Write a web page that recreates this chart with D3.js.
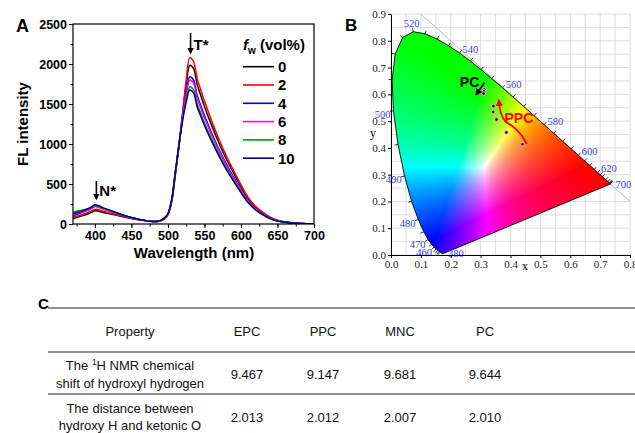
<!DOCTYPE html>
<html>
<head>
<meta charset="utf-8">
<script src="https://cdn.jsdelivr.net/npm/d3@7"></script>
<style>
  body { margin: 0; background: #fff; }
  svg { display: block; }
</style>
</head>
<body>
<svg id="fig" width="635" height="433"></svg>
<script>
// ---------- panel A data : FL spectra ----------
const wavelength = [370, 380, 390, 395, 400, 405, 410, 420, 430, 440, 450, 460, 470, 480, 485, 490, 495,
  500, 505, 510, 515, 520, 525, 530, 535, 540, 545, 550, 560, 570, 580, 590, 600, 610, 620, 630, 640, 650, 660, 670, 680, 690, 700]

const fl0 = [65, 95, 125, 145, 165, 160, 148, 128, 108, 88, 70, 54, 40, 31, 32, 42, 66,
  120, 280, 615, 975, 1370, 1740, 1985, 1945, 1745, 1605, 1470, 1230, 1010, 810, 635, 468, 315, 210, 138, 80, 44, 26, 15, 8, 4, 1]
const fl2 = [85, 110, 140, 160, 185, 178, 162, 138, 115, 93, 73, 55, 40, 30, 30, 38, 60,
  115, 270, 600, 960, 1380, 1800, 2080, 2030, 1820, 1675, 1537, 1286, 1056, 848, 665, 490, 330, 220, 145, 85, 46, 27, 16, 9, 4, 1]
const fl4 = [105, 135, 170, 195, 225, 215, 195, 162, 132, 104, 80, 58, 41, 31, 32, 43, 70,
  125, 290, 630, 985, 1340, 1640, 1840, 1800, 1610, 1480, 1355, 1135, 930, 748, 585, 432, 290, 193, 127, 74, 40, 24, 14, 8, 4, 1]
const fl6 = [118, 142, 172, 193, 215, 207, 190, 160, 130, 102, 78, 57, 41, 31, 32, 43, 70,
  125, 290, 628, 980, 1330, 1610, 1798, 1760, 1575, 1447, 1325, 1110, 910, 730, 572, 422, 284, 189, 124, 72, 39, 23, 14, 8, 4, 1]
const fl8 = [150, 168, 192, 208, 230, 220, 200, 168, 136, 106, 80, 58, 41, 31, 32, 44, 72,
  128, 295, 635, 980, 1300, 1555, 1715, 1680, 1500, 1380, 1262, 1058, 868, 697, 546, 402, 271, 180, 118, 69, 37, 22, 13, 7, 3, 1]
const fl10 = [130, 155, 187, 212, 240, 230, 208, 174, 140, 108, 82, 59, 42, 32, 33, 45, 74,
  130, 300, 640, 985, 1290, 1525, 1675, 1640, 1465, 1347, 1232, 1032, 847, 680, 532, 392, 264, 176, 115, 67, 36, 21, 12, 7, 3, 1]

const fwLabels = ['0', '2', '4', '6', '8', '10']
const fwSeries = [fl0, fl2, fl4, fl6, fl8, fl10]
const fwColors = ['#000000', '#ff0000', '#0000ff', '#ff00ff', '#009900', '#000080']

const specTicksX = [400, 450, 500, 550, 600, 650, 700]
const specTicksY = [0, 500, 1000, 1500, 2000, 2500]

// ---------- panel B data : CIE 1931 ----------
const locusNm = [380, 390, 400, 410, 420, 430, 440, 445, 450, 455, 460, 465, 470, 475, 480, 485, 490, 495, 500, 505,
  510, 515, 520, 525, 530, 535, 540, 545, 550, 555, 560, 565, 570, 575, 580, 585, 590, 595, 600, 605, 610, 615, 620, 625,
  630, 640, 650, 660, 670, 680, 690, 700]
const locusX = [0.1741, 0.1738, 0.1733, 0.1726, 0.1714, 0.1689, 0.1644, 0.1611, 0.1566, 0.1510, 0.1440, 0.1355, 0.1241,
  0.1096, 0.0913, 0.0687, 0.0454, 0.0235, 0.0082, 0.0039, 0.0139, 0.0389, 0.0743, 0.1142, 0.1547, 0.1929, 0.2296, 0.2658,
  0.3016, 0.3373, 0.3731, 0.4087, 0.4441, 0.4788, 0.5125, 0.5448, 0.5752, 0.6029, 0.6270, 0.6482, 0.6658, 0.6801, 0.6915,
  0.7006, 0.7079, 0.7190, 0.7260, 0.7300, 0.7320, 0.7334, 0.7344, 0.7347]
const locusY = [0.0050, 0.0049, 0.0048, 0.0048, 0.0051, 0.0069, 0.0109, 0.0138, 0.0177, 0.0227, 0.0297, 0.0399, 0.0578,
  0.0868, 0.1327, 0.2007, 0.2950, 0.4127, 0.5384, 0.6548, 0.7502, 0.8120, 0.8338, 0.8262, 0.8059, 0.7816, 0.7543, 0.7243,
  0.6923, 0.6589, 0.6245, 0.5896, 0.5547, 0.5202, 0.4866, 0.4544, 0.4242, 0.3965, 0.3725, 0.3514, 0.3340, 0.3197, 0.3083,
  0.2993, 0.2920, 0.2809, 0.2740, 0.2700, 0.2680, 0.2666, 0.2656, 0.2653]
const locusLabels = [380, 460, 470, 480, 490, 500, 520, 540, 560, 580, 600, 620, 700]

const pcX = [0.312, 0.311, 0.310]
const pcY = [0.618, 0.611, 0.603]
const ppcX = [0.343, 0.342, 0.353, 0.386, 0.440]
const ppcY = [0.556, 0.534, 0.506, 0.458, 0.414]

// annotation arrows (chromaticity coords)
const ppcArrowX = [0.454, 0.436, 0.408, 0.382, 0.368, 0.361]
const ppcArrowY = [0.414, 0.448, 0.480, 0.500, 0.530, 0.578]
const pcArrowX = [0.313, 0.285]
const pcArrowY = [0.643, 0.599]

const cieTicks = [0, 0.1, 0.2, 0.3, 0.4, 0.5, 0.6, 0.7, 0.8]
const cieTicksY = [0, 0.1, 0.2, 0.3, 0.4, 0.5, 0.6, 0.7, 0.8, 0.9]

// ---------- panel C data : table ----------
const tableHead = ['Property', 'EPC', 'PPC', 'MNC', 'PC']
const nmrShift = ['9.467', '9.147', '9.681', '9.644']
const hoDistance = ['2.013', '2.012', '2.007', '2.010']

const svg = d3.select('#fig')
const sans = 'Liberation Sans, Arial, sans-serif'
const serif = 'Liberation Serif, Times New Roman, serif'

svg.append('rect').attr('width', 635).attr('height', 433).attr('fill', '#fff')

const defs = svg.append('defs')
function marker (id, color) {
  defs.append('marker').attr('id', id)
    .attr('viewBox', '0 0 10 10').attr('refX', 8).attr('refY', 5)
    .attr('markerWidth', 4).attr('markerHeight', 4).attr('orient', 'auto')
    .append('path').attr('d', 'M0,0 L10,5 L0,10 z').attr('fill', color)
}
marker('headBlack', '#000')
marker('headRed', '#ff0000')

/* ================= panel A ================= */
const gA = svg.append('g')
const xA = d3.scaleLinear().domain([370, 700]).range([73, 314])
const yA = d3.scaleLinear().domain([0, 2500]).range([224, 24])

defs.append('clipPath').attr('id', 'clipA').append('rect')
  .attr('x', 73).attr('y', 24).attr('width', 241).attr('height', 200)

const styleAxis = (sel) => {
  sel.select('.domain').remove()
  sel.selectAll('.tick line').attr('stroke', '#000').attr('stroke-width', 1)
  sel.selectAll('.tick text').attr('font-family', sans).attr('font-weight', 'bold')
    .attr('font-size', 12.5).attr('fill', '#000')
}

gA.append('g').attr('transform', 'translate(0,224)')
  .call(d3.axisBottom(xA).tickValues(d3.range(375, 700, 25)).tickSize(2.5).tickFormat(''))
  .call(styleAxis)
gA.append('g').attr('transform', 'translate(0,224)')
  .call(d3.axisBottom(xA).tickValues(specTicksX).tickSize(4).tickPadding(3).tickFormat(d3.format('d')))
  .call(styleAxis)
gA.append('g').attr('transform', 'translate(73,0)')
  .call(d3.axisLeft(yA).tickValues(d3.range(250, 2500, 500)).tickSize(2.5).tickFormat(''))
  .call(styleAxis)
gA.append('g').attr('transform', 'translate(73,0)')
  .call(d3.axisLeft(yA).tickValues(specTicksY).tickSize(4).tickPadding(2).tickFormat(d3.format('d')))
  .call(styleAxis)

const lineA = d3.line().x((d, i) => xA(wavelength[i])).y(d => yA(d)).curve(d3.curveCatmullRom)
gA.append('g').attr('clip-path', 'url(#clipA)')
  .selectAll('path').data(fwSeries).join('path')
  .attr('d', lineA).attr('fill', 'none')
  .attr('stroke', (d, i) => fwColors[i]).attr('stroke-width', 1.5)

gA.append('rect').attr('x', 73).attr('y', 24).attr('width', 241).attr('height', 200)
  .attr('fill', 'none').attr('stroke', '#000').attr('stroke-width', 1.2)

// legend
const leg = gA.append('g')
const legTitle = leg.append('text').attr('x', 243).attr('y', 50)
  .attr('font-family', sans).attr('font-weight', 'bold').attr('font-size', 15)
legTitle.append('tspan').attr('font-style', 'italic').text('f')
legTitle.append('tspan').attr('font-size', 10).attr('dy', 4).text('w')
legTitle.append('tspan').attr('dy', -4).text(' (vol%)')
const legRows = leg.selectAll('g.row').data(fwLabels).join('g').attr('class', 'row')
  .attr('transform', (d, i) => 'translate(0,' + (66.7 + i * 18.3) + ')')
legRows.append('line').attr('x1', 243).attr('x2', 274)
  .attr('stroke', (d, i) => fwColors[i]).attr('stroke-width', 1.6)
legRows.append('text').attr('x', 278).attr('dy', '0.36em')
  .attr('font-family', sans).attr('font-weight', 'bold').attr('font-size', 15).text(d => d)

// peak markers
function peakMark (nm, y0, y1, label) {
  gA.append('line').attr('x1', xA(nm)).attr('x2', xA(nm)).attr('y1', y0).attr('y2', y1)
    .attr('stroke', '#000').attr('stroke-width', 1.6).attr('marker-end', 'url(#headBlack)')
  gA.append('text').attr('x', xA(nm) + 3).attr('y', y1 - 3)
    .attr('font-family', sans).attr('font-weight', 'bold').attr('font-size', 15).text(label)
}
peakMark(531, 33, 53, 'T*')
peakMark(402, 181, 199, 'N*')

gA.append('text').attr('transform', 'translate(28,124) rotate(-90)').attr('text-anchor', 'middle')
  .attr('font-family', sans).attr('font-weight', 'bold').attr('font-size', 15).text('FL intensity')
gA.append('text').attr('x', 194).attr('y', 258).attr('text-anchor', 'middle')
  .attr('font-family', sans).attr('font-weight', 'bold').attr('font-size', 15).text('Wavelength (nm)')
svg.append('text').attr('x', 16).attr('y', 32)
  .attr('font-family', sans).attr('font-weight', 'bold').attr('font-size', 18).text('A')

/* ================= panel B ================= */
const gB = svg.append('g')
const xB = d3.scaleLinear().domain([0, 0.8]).range([391, 630])
const yB = d3.scaleLinear().domain([0, 0.9]).range([255, 14])

// grid
gB.append('g').selectAll('line').data(d3.range(0, 0.8001, 0.05)).join('line')
  .attr('x1', d => xB(d)).attr('x2', d => xB(d)).attr('y1', yB(0)).attr('y2', yB(0.9))
  .attr('stroke', '#d4d4d4').attr('stroke-width', 0.8)
gB.append('g').selectAll('line').data(d3.range(0, 0.9001, 0.05)).join('line')
  .attr('y1', d => yB(d)).attr('y2', d => yB(d)).attr('x1', xB(0)).attr('x2', xB(0.8))
  .attr('stroke', '#d4d4d4').attr('stroke-width', 0.8)

// x + y = 1 line
gB.append('line').attr('x1', xB(0.1)).attr('y1', yB(0.9)).attr('x2', xB(0.8)).attr('y2', yB(0.2))
  .attr('stroke', '#bdbdbd').attr('stroke-width', 1)

// gamut colour fill (linear, max-normalised RGB as in the original plot)
const locusPts = locusNm.map((nm, i) => [xB(locusX[i]), yB(locusY[i])])
defs.append('clipPath').attr('id', 'gamutClip').append('path')
  .attr('d', d3.line()(locusPts) + 'Z')

const x0 = 391, y0 = 14
const imgW = 240, imgH = 242
const canvas = document.createElement('canvas')
canvas.width = imgW
canvas.height = imgH
const ctx = canvas.getContext('2d')
const img = ctx.createImageData(imgW, imgH)
const enc = v => Math.pow(v, 0.85)
for (let j = 0; j < imgH; j++) {
  for (let i = 0; i < imgW; i++) {
    const cx = xB.invert(x0 + i + 0.5)
    const cy = Math.max(yB.invert(y0 + j + 0.5), 0.001)
    const X = cx / cy, Y = 1, Z = (1 - cx - cy) / cy
    let r = 3.2406 * X - 1.5372 * Y - 0.4986 * Z
    let g = -0.9689 * X + 1.8758 * Y + 0.0415 * Z
    let b = 0.0557 * X - 0.2040 * Y + 1.0570 * Z
    r = Math.max(r, 0); g = Math.max(g, 0); b = Math.max(b, 0)
    const m = Math.max(r, g, b) || 1
    const k = (j * imgW + i) * 4
    img.data[k] = Math.round(255 * enc(r / m))
    img.data[k + 1] = Math.round(255 * enc(g / m))
    img.data[k + 2] = Math.round(255 * enc(b / m))
    img.data[k + 3] = 255
  }
}
ctx.putImageData(img, 0, 0)
gB.append('image').attr('href', canvas.toDataURL())
  .attr('x', x0).attr('y', y0).attr('width', imgW).attr('height', imgH)
  .attr('preserveAspectRatio', 'none').attr('clip-path', 'url(#gamutClip)')

gB.append('path').attr('d', d3.line()(locusPts) + 'Z')
  .attr('fill', 'none').attr('stroke', '#000').attr('stroke-width', 0.9)

// outward normal of the locus at index i
function normalAt (i) {
  const nm = locusNm[i]
  if (nm === 380 || nm === 700) return [1, 0]
  const a = locusPts[Math.max(i - 1, 0)]
  const b = locusPts[Math.min(i + 1, locusPts.length - 1)]
  const tx = b[0] - a[0], ty = b[1] - a[1]
  const l = Math.hypot(tx, ty)
  return [ty / l, -tx / l]
}

// wavelength ticks
gB.append('g').selectAll('line').data(locusNm.filter(nm => nm >= 440 && nm < 700)).join('line')
  .each(function (nm) {
    const i = locusNm.indexOf(nm)
    const p = locusPts[i], n = normalAt(i)
    d3.select(this).attr('x1', p[0]).attr('y1', p[1])
      .attr('x2', p[0] + n[0] * 3.5).attr('y2', p[1] + n[1] * 3.5)
  })
  .attr('stroke', '#000').attr('stroke-width', 0.8)

gB.append('g').selectAll('text').data(locusLabels).join('text')
  .each(function (nm) {
    const i = locusNm.indexOf(nm)
    const p = locusPts[i], n = normalAt(i)
    const anchor = n[0] > 0.3 ? 'start' : (n[0] < -0.3 ? 'end' : 'middle')
    const off = anchor === 'middle' ? 9 : (anchor === 'end' ? 3 : 5)
    // labels on the blue side sit a little below their tick
    const drop = anchor === 'end' ? 3 : 0
    d3.select(this).attr('x', p[0] + n[0] * off).attr('y', p[1] + n[1] * off + drop)
      .attr('text-anchor', anchor)
  })
  .attr('dy', '0.35em')
  .attr('font-family', serif).attr('font-size', 10.5).attr('fill', '#3a3aff')
  .text(d => d)

// axes
const styleB = (sel) => {
  sel.select('.domain').attr('stroke', '#000')
  sel.selectAll('.tick line').attr('stroke', '#000')
  sel.selectAll('.tick text').attr('font-family', serif).attr('font-size', 11).attr('fill', '#222')
}
gB.append('g').attr('transform', 'translate(0,255)')
  .call(d3.axisBottom(xB).tickValues(cieTicks).tickSize(3).tickSizeOuter(0).tickPadding(2).tickFormat(d3.format('.1f')))
  .call(styleB)
gB.append('g').attr('transform', 'translate(391,0)')
  .call(d3.axisLeft(yB).tickValues(cieTicksY).tickSize(3).tickSizeOuter(0).tickPadding(2).tickFormat(d3.format('.1f')))
  .call(styleB)
gB.append('text').attr('x', 525).attr('y', 270).attr('text-anchor', 'middle')
  .attr('font-family', serif).attr('font-size', 12).text('x')
gB.append('text').attr('x', 373).attr('y', 137).attr('text-anchor', 'middle')
  .attr('font-family', serif).attr('font-size', 12).text('y')

// measured colour coordinates
const dots = pcX.map((x, i) => [x, pcY[i]]).concat(ppcX.map((x, i) => [x, ppcY[i]]))
gB.append('g').selectAll('circle').data(dots).join('circle')
  .attr('cx', d => xB(d[0])).attr('cy', d => yB(d[1])).attr('r', 1.9)
  .attr('fill', '#3a1020').attr('stroke', '#f4c4d4').attr('stroke-width', 0.9)

// annotations
gB.append('path')
  .attr('d', d3.line().curve(d3.curveCatmullRom)(ppcArrowX.map((x, i) => [xB(x), yB(ppcArrowY[i])])))
  .attr('fill', 'none').attr('stroke', '#ff0000').attr('stroke-width', 1.8)
  .attr('marker-end', 'url(#headRed)')
gB.append('line')
  .attr('x1', xB(pcArrowX[0])).attr('y1', yB(pcArrowY[0]))
  .attr('x2', xB(pcArrowX[1])).attr('y2', yB(pcArrowY[1]))
  .attr('stroke', '#000').attr('stroke-width', 1.8).attr('marker-end', 'url(#headBlack)')
gB.append('text').attr('x', xB(0.428)).attr('y', yB(0.513)).attr('dy', '0.36em').attr('text-anchor', 'middle')
  .attr('font-family', sans).attr('font-weight', 'bold').attr('font-size', 14).attr('fill', '#ff0000').text('PPC')
gB.append('text').attr('x', xB(0.263)).attr('y', yB(0.647)).attr('dy', '0.36em').attr('text-anchor', 'middle')
  .attr('font-family', sans).attr('font-weight', 'bold').attr('font-size', 14).attr('fill', '#000').text('PC')

svg.append('text').attr('x', 345).attr('y', 31)
  .attr('font-family', sans).attr('font-weight', 'bold').attr('font-size', 17).text('B')

/* ================= panel C ================= */
const gC = svg.append('g')
svg.append('text').attr('x', 38).attr('y', 309)
  .attr('font-family', sans).attr('font-weight', 'bold').attr('font-size', 15).text('C')

const colPos = c => c === 'Property' ? 130 : [247, 323, 400, 485][tableHead.indexOf(c) - 1]

gC.selectAll('line').data([308, 352, 394]).join('line')
  .attr('x1', 48).attr('x2', 635).attr('y1', d => d).attr('y2', d => d)
  .attr('stroke', '#222').attr('stroke-width', 1.2)

const cellText = (x, y, t) => gC.append('text').attr('x', x).attr('y', y).attr('dy', '0.36em')
  .attr('text-anchor', 'middle').attr('font-family', sans).attr('font-size', 13).attr('fill', '#111').text(t)

tableHead.forEach(h => cellText(colPos(h), 331, h))

const r1 = cellText(130, 365, '')
r1.append('tspan').text('The ')
r1.append('tspan').attr('font-size', 8.5).attr('dy', -5).text('1')
r1.append('tspan').attr('dy', 5).text('H NMR chemical')
cellText(130, 383, 'shift of hydroxyl  hydrogen')
nmrShift.forEach((v, i) => cellText(colPos(tableHead[i + 1]), 374, v))

cellText(130, 408, 'The distance between')
cellText(130, 425, 'hydroxy H and ketonic O')
hoDistance.forEach((v, i) => cellText(colPos(tableHead[i + 1]), 417, v))
</script>
</body>
</html>
